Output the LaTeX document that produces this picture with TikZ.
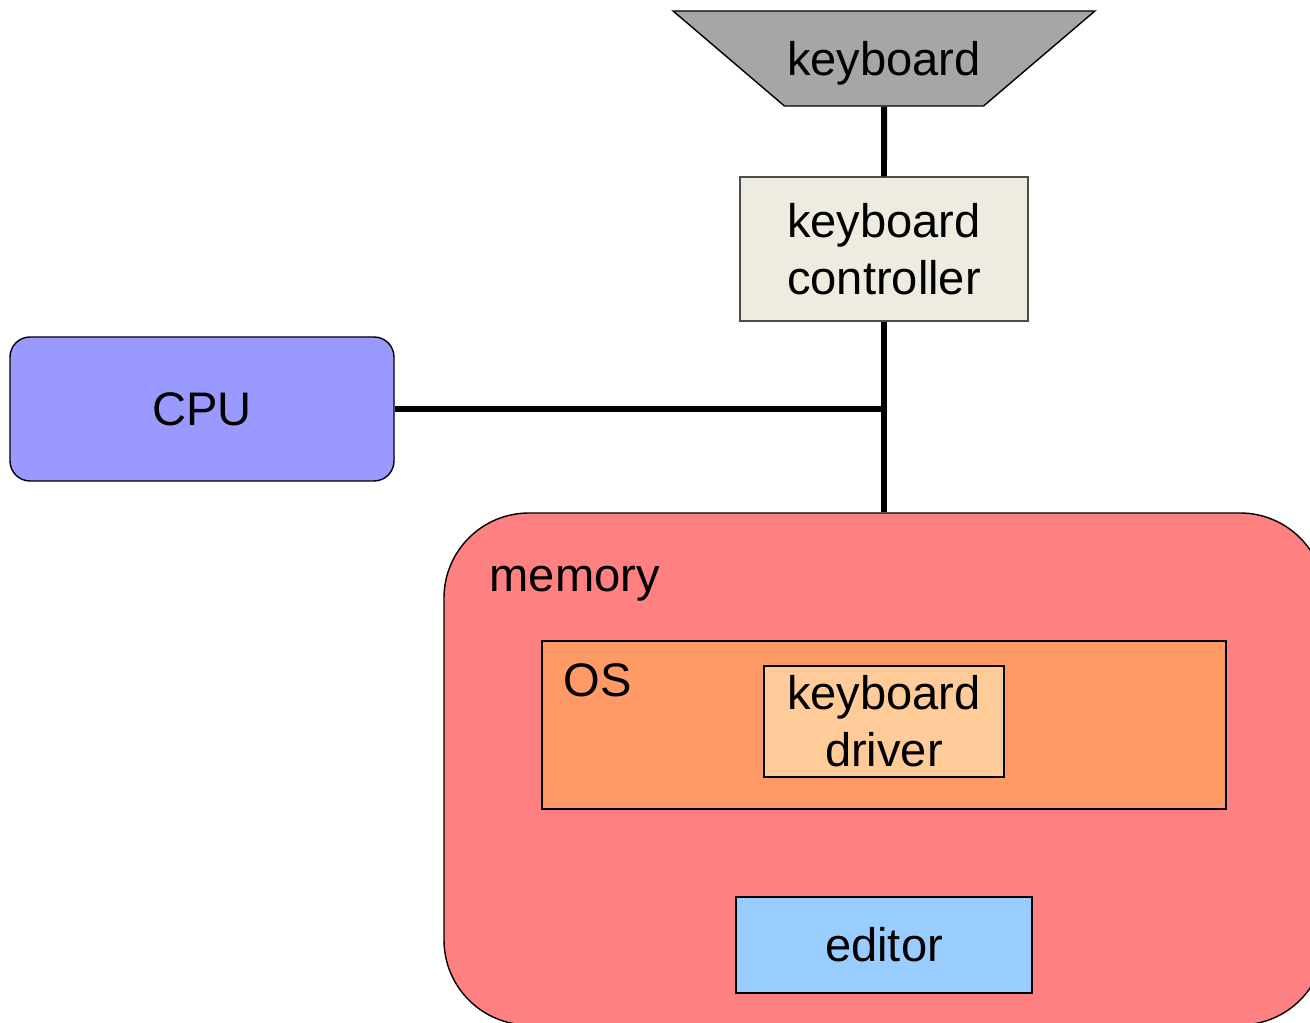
\documentclass[tikz,border=0pt]{standalone}
\usepackage{fontspec}
\setmainfont{Liberation Sans}
\usepackage{tikz}
\usetikzlibrary{positioning,shapes.geometric}
\definecolor{kbdgray}{RGB}{166, 166, 166}
\definecolor{ctrlbeige}{RGB}{238, 236, 225}
\definecolor{cpublue}{RGB}{153, 153, 255}
\definecolor{memred}{RGB}{255, 128, 128}
\definecolor{osorange}{RGB}{255, 153, 102}
\definecolor{drvpeach}{RGB}{255, 204, 153}
\definecolor{edblue}{RGB}{153, 204, 255}

\begin{document}
\begin{tikzpicture}[
    font=\fontsize{13.4}{16.2}\selectfont,
    kbdbox/.style={trapezium, trapezium angle=26.5, shape border rotate=180, trapezium stretches=true, draw, fill=kbdgray, minimum width=4.22cm, minimum height=0.95cm, inner sep=0pt, text height=0.44cm, text depth=0.1cm},
    ctrlbox/.style={rectangle, draw=black!70, fill=ctrlbeige, minimum width=2.88cm, minimum height=1.44cm, align=center, inner sep=0pt},
    cpubox/.style={rectangle, draw, fill=cpublue, rounded corners=0.2cm, minimum width=3.84cm, minimum height=1.44cm, inner sep=0pt},
    membox/.style={rectangle, draw, fill=memred, rounded corners=0.85cm, minimum width=8.81cm, minimum height=5.12cm, inner sep=0pt},
    osbox/.style={rectangle, draw, fill=osorange, minimum width=6.84cm, minimum height=1.68cm, inner sep=0pt},
    drvbox/.style={rectangle, draw, fill=drvpeach, minimum width=2.40cm, minimum height=1.11cm, align=center, inner sep=0pt},
    edbox/.style={rectangle, draw, fill=edblue, minimum width=2.96cm, minimum height=0.96cm, inner sep=0pt},
    lbl/.style={inner sep=0pt, anchor=base west},
    bus/.style={line width=1.7pt}
]
\useasboundingbox (0,0) rectangle (13.1,-10.23);
\clip (0,0) rectangle (13.1,-10.23);
% Devices
\node[kbdbox]  at (8.84,-0.585) (kbd)  {keyboard};
\node[ctrlbox] at (8.84,-2.49)  (ctrl) {keyboard\\controller};
\node[cpubox]  at (2.02,-4.09)  (cpu)  {CPU};
% Memory and its contents
\node[membox]  at (8.845,-7.69) (mem)  {};
\node[lbl]     at (4.89,-5.92)  (memlbl) {memory};
\node[osbox]   at (8.84,-7.25)  (os)   {};
\node[lbl]     at (5.63,-6.97)  (oslbl) {OS};
\node[drvbox]  at (8.84,-7.215) (drv)  {keyboard\\driver};
\node[edbox]   at (8.84,-9.45)  (ed)   {editor};
% Bus
\coordinate (junc) at (ctrl.south |- cpu.east);
\draw[bus] (kbd.south) -- (ctrl.north);
\draw[bus] (ctrl.south) -- (ctrl.south |- mem.north);
\draw[bus] (cpu.east) -- (junc);
\end{tikzpicture}
\end{document}
